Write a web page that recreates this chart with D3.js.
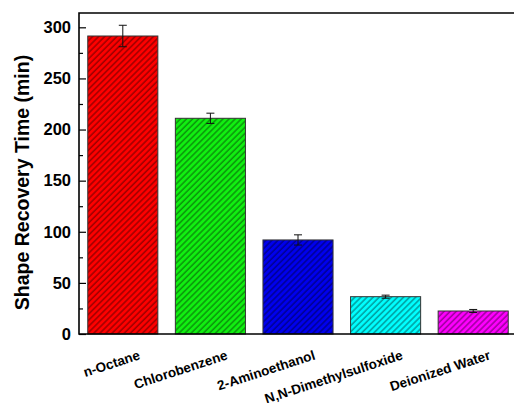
<!DOCTYPE html>
<html>
<head>
<meta charset="utf-8">
<script src="https://cdn.jsdelivr.net/npm/d3@7"></script>
<style>
  body { margin: 0; background: #fff; }
  text { font-family: "Liberation Sans", Arial, sans-serif; font-weight: bold; }
</style>
</head>
<body>
<script>
const solvents = ['n-Octane', 'Chlorobenzene', '2-Aminoethanol', 'N,N-Dimethylsulfoxide', 'Deionized Water']
const recovery_time = [291.5, 211, 92, 36.5, 22.5]
const recovery_err = [10.5, 5, 5, 1.5, 1.5]
const bar_colors = ['#ff0000', '#11f011', '#0000ee', '#00ffff', '#ff00ff']
const y_ticks = [0, 50, 100, 150, 200, 250, 300]

const width = 514, height = 403
const margin = { top: 13, left: 79, bottom: 69 }
const plot_right = 517

const svg = d3.select('body')
  .append('svg')
  .attr('width', width)
  .attr('height', height)

const x = d3.scaleBand()
  .domain(solvents)
  .range([margin.left, plot_right])
  .paddingInner(0.2)
  .paddingOuter(0.1)

const y = d3.scaleLinear()
  .domain([0, 314])
  .range([height - margin.bottom, margin.top])

// hatch patterns, one per bar colour
const defs = svg.append('defs')
bar_colors.forEach((c, i) => {
  const p = defs.append('pattern')
    .attr('id', 'hatch' + i)
    .attr('patternUnits', 'userSpaceOnUse')
    .attr('width', 4.3)
    .attr('height', 6)
    .attr('patternTransform', 'rotate(45)')
  p.append('rect').attr('width', 4.3).attr('height', 6).attr('fill', c)
  p.append('line')
    .attr('x1', 1).attr('y1', 0).attr('x2', 1).attr('y2', 6)
    .attr('stroke', d3.color(c).darker(1.3))
    .attr('stroke-width', 1.6)
})

svg.selectAll('rect.bar')
  .data(recovery_time)
  .enter()
  .append('rect')
  .attr('class', 'bar')
  .attr('x', (d, i) => x(solvents[i]))
  .attr('width', x.bandwidth())
  .attr('y', d => y(d))
  .attr('height', d => y(0) - y(d))
  .attr('fill', (d, i) => 'url(#hatch' + i + ')')
  .attr('stroke', '#333')
  .attr('stroke-width', 1)

// error bars
const err = svg.selectAll('g.err')
  .data(recovery_time)
  .enter()
  .append('g')
  .attr('class', 'err')
  .attr('stroke', '#111')
  .attr('stroke-width', 1)
err.append('line')
  .attr('x1', (d, i) => x(solvents[i]) + x.bandwidth() / 2)
  .attr('x2', (d, i) => x(solvents[i]) + x.bandwidth() / 2)
  .attr('y1', (d, i) => y(d + recovery_err[i]))
  .attr('y2', (d, i) => y(d - recovery_err[i]))
err.selectAll('line.cap')
  .data((d, i) => [[i, d + recovery_err[i]], [i, d - recovery_err[i]]])
  .enter()
  .append('line')
  .attr('class', 'cap')
  .attr('x1', d => x(solvents[d[0]]) + x.bandwidth() / 2 - 4)
  .attr('x2', d => x(solvents[d[0]]) + x.bandwidth() / 2 + 4)
  .attr('y1', d => y(d[1]))
  .attr('y2', d => y(d[1]))

// y axis with inward ticks
const y_axis = svg.append('g')
  .attr('transform', `translate(${margin.left},0)`)
  .call(d3.axisLeft(y).tickValues(y_ticks).tickSize(-7).tickPadding(8).tickSizeOuter(0))
y_axis.selectAll('.tick text').attr('font-size', '16.5px').attr('fill', '#000')
y_axis.select('.domain').remove()
svg.append('g')
  .attr('transform', `translate(${margin.left},0)`)
  .call(d3.axisLeft(y).tickValues(y_ticks.slice(0, -1).map(v => v + 25)).tickSize(-4).tickFormat(''))
  .select('.domain').remove()
svg.selectAll('.tick line').attr('stroke', '#000').attr('stroke-width', 1.2)

// frame
svg.append('path')
  .attr('d', `M${plot_right},${margin.top}H${margin.left}V${y(0)}H${plot_right}`)
  .attr('fill', 'none')
  .attr('stroke', '#000')
  .attr('stroke-width', 1.6)

// x labels, rotated
svg.selectAll('text.xlab')
  .data(solvents)
  .enter()
  .append('text')
  .attr('class', 'xlab')
  .attr('font-size', '13.5px')
  .attr('text-anchor', 'end')
  .attr('transform', d => `translate(${x(d) + x.bandwidth() / 2 + 18},${y(0) + 25}) rotate(-18)`)
  .text(d => d)

svg.append('text')
  .attr('font-size', '19.5px')
  .attr('text-anchor', 'middle')
  .attr('transform', `translate(29,182.5) rotate(-90)`)
  .text('Shape Recovery Time (min)')
</script>
</body>
</html>
